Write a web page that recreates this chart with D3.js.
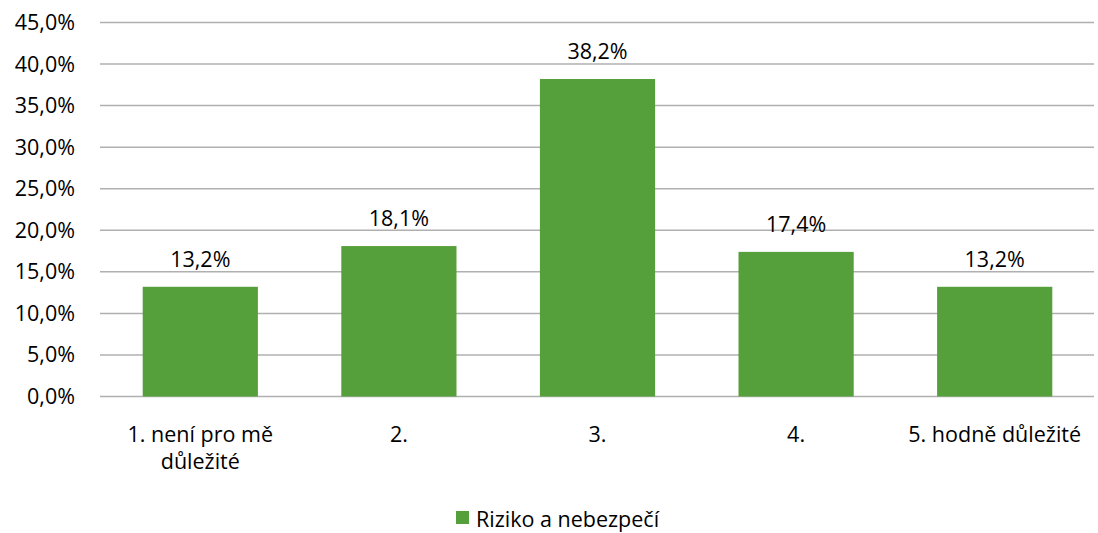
<!DOCTYPE html>
<html>
<head>
<meta charset="utf-8">
<script src="https://d3js.org/d3.v7.min.js"></script>
<style>
  body { margin: 0; background: #fff; }
  text { font-family: "Open Sans", sans-serif; fill: #000; }
</style>
</head>
<body>
<svg id="chart" width="1098" height="533"></svg>
<script>
// data
var categories = [["1. není pro mě", "důležité"], ["2."], ["3."], ["4."], ["5. hodně důležité"]];
var values = [13.2, 18.1, 38.2, 17.4, 13.2];
var seriesName = "Riziko a nebezpečí";
var yTicks = [0, 5, 10, 15, 20, 25, 30, 35, 40, 45];

var svg = d3.select("#chart");
var plotL = 101, plotR = 1094, plotT = 22.5, plotB = 396.5;
var green = "#55a03b";
var fs = "21.5px";

var x = d3.scaleBand().domain(d3.range(values.length)).range([plotL, plotR]).paddingInner(0.42).paddingOuter(0.21);
var y = d3.scaleLinear().domain([0, 45]).range([plotB, plotT]);

var fmt = function(v) { return v.toFixed(1).replace(".", ",") + "%"; };

// gridlines
svg.append("g").selectAll("line").data(yTicks).enter().append("line")
  .attr("x1", 100).attr("x2", plotR)
  .attr("y1", function(d) { return y(d); }).attr("y2", function(d) { return y(d); })
  .attr("stroke", "#b0b0b0").attr("stroke-width", 1.5);

// y labels
svg.append("g").selectAll("text").data(yTicks).enter().append("text")
  .attr("x", 75).attr("y", function(d) { return y(d) + 7.5; })
  .attr("text-anchor", "end").style("font-size", fs)
  .text(function(d) { return fmt(d); });

// bars
svg.append("g").selectAll("rect").data(values).enter().append("rect")
  .attr("x", function(d, i) { return x(i); })
  .attr("width", x.bandwidth())
  .attr("y", function(d) { return y(d); })
  .attr("height", function(d) { return plotB - y(d); })
  .attr("fill", green);

// value labels
svg.append("g").selectAll("text").data(values).enter().append("text")
  .attr("x", function(d, i) { return x(i) + x.bandwidth() / 2; })
  .attr("y", function(d) { return y(d) - 20; })
  .attr("text-anchor", "middle").style("font-size", fs)
  .text(function(d) { return fmt(d); });

// category labels
var cat = svg.append("g").selectAll("text").data(categories).enter().append("text")
  .attr("text-anchor", "middle").style("font-size", fs)
  .attr("x", function(d, i) { return x(i) + x.bandwidth() / 2; })
  .attr("y", 442);
cat.selectAll("tspan").data(function(d) { return d; }).enter().append("tspan")
  .attr("x", function() { return d3.select(this.parentNode).attr("x"); })
  .attr("dy", function(d, j) { return j ? 27 : 0; })
  .text(function(d) { return d; });

// legend
var legend = svg.append("g");
legend.append("rect").attr("x", 456).attr("y", 511).attr("width", 13).attr("height", 13).attr("fill", green);
legend.append("text").attr("x", 476).attr("y", 526.5).style("font-size", fs).text(seriesName);
</script>
</body>
</html>
